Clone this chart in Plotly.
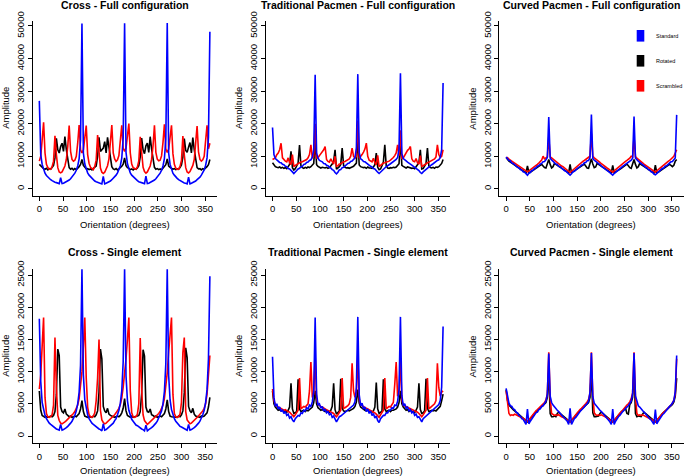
import plotly.graph_objects as go

# Orientation sampled every 3 degrees, 0..360
orientation = list(range(0, 361, 3))

# ---------------- Cross - Full configuration ----------------
cross_full_standard = [
    27000, 10500, 7500, 5800, 4800, 4100, 3600, 3200, 2800, 2500, 2200, 2000, 1900, 1700, 1600, 3400, 1600, 1700, 1900, 2100, 2400, 2700, 3100, 3600, 4100, 4800, 5700, 7000, 9200, 15000,
    50700, 11000, 7600, 5900, 4900, 4200, 3700, 3200, 2800, 2400, 2200, 2000, 1800, 1700, 1500, 3800, 1500, 1700, 1900, 2200, 2400, 2800, 3200, 3600, 4200, 4900, 5800, 7100, 9400, 15500,
    50800, 11200, 7700, 6000, 4900, 4200, 3700, 3200, 2800, 2500, 2200, 2000, 1900, 1700, 1600, 3900, 1600, 1700, 1900, 2100, 2400, 2700, 3100, 3600, 4100, 4800, 5700, 7000, 9300, 15200,
    50900, 11000, 7500, 5800, 4800, 4200, 3600, 3200, 2800, 2500, 2200, 2000, 1800, 1700, 1500, 3600, 1500, 1700, 1900, 2100, 2400, 2800, 3100, 3600, 4200, 4900, 5800, 7200, 9500, 15800,
    48200]
cross_full_rotated = [
    7500, 7000, 6500, 6200, 6000, 6300, 5800, 6200, 6000, 6500, 7200, 9500, 15500, 12000, 11000, 13000, 14000, 11500, 16000, 12000, 9000, 6500, 6000, 6300, 5800, 6200, 5900, 6300, 6800, 7500,
    9000, 7200, 6600, 6100, 6200, 5900, 6100, 5800, 6300, 6600, 7000, 10000, 15800, 11500, 12000, 12500, 14500, 11000, 15800, 12500, 9500, 6800, 6100, 5900, 6200, 5800, 6100, 6400, 6900, 7600,
    9500, 7100, 6500, 6300, 5900, 6100, 5800, 6200, 6000, 6400, 7100, 9800, 15600, 12000, 10800, 13200, 14000, 11200, 16000, 12200, 9200, 6600, 6000, 6200, 5900, 6100, 5800, 6300, 6700, 7400,
    9200, 7000, 6600, 6200, 6000, 6200, 5900, 6100, 6000, 6500, 7300, 9700, 15400, 11800, 11200, 12800, 14200, 11000, 15700, 12000, 9000, 6500, 6100, 6200, 5800, 6200, 6000, 6300, 6800, 7400,
    9000]
cross_full_scrambled = [
    8500, 10000, 15000, 20400, 11000, 7500, 6500, 6000, 6000, 6800, 8500, 16300, 10500, 6500, 5200, 4900, 5200, 6000, 7000, 9000, 13000, 19400, 11500, 9000, 8500, 8800, 10000, 14000, 19600, 12000,
    11000, 12000, 16000, 19400, 10500, 7800, 6600, 6200, 5900, 6900, 8800, 16500, 10000, 6400, 5100, 4700, 5100, 6100, 7100, 9200, 13500, 19600, 11000, 9200, 8400, 8900, 10200, 14500, 19500, 12500,
    11500, 12500, 15500, 20000, 11000, 7600, 6500, 6100, 6000, 6700, 8600, 16000, 10200, 6600, 5300, 4800, 5200, 6000, 7000, 9100, 13200, 19500, 11200, 9100, 8600, 8800, 10100, 14200, 19800, 12200,
    11200, 12200, 15800, 19500, 10800, 7500, 6400, 6000, 6100, 6900, 8700, 16200, 10400, 6500, 5200, 4900, 5300, 6100, 7200, 9000, 13100, 19300, 11300, 9000, 8500, 8900, 10000, 14300, 19500, 12300,
    14000]

# ---------------- Traditional Pacmen - Full configuration ----------------
trad_full_standard = [
    18800, 10500, 9300, 8800, 8600, 8100, 8000, 7500, 7400, 6900, 6800, 6200, 6100, 5500, 5200, 4700, 5300, 5600, 6100, 6300, 6800, 6900, 7500, 7600, 8100, 8200, 8700, 8900, 9700, 12000,
    35000, 11000, 9400, 8700, 8500, 8300, 7800, 7700, 7200, 7100, 6600, 6400, 5900, 5700, 5000, 4600, 5100, 5800, 5900, 6500, 6600, 7100, 7300, 7800, 7900, 8400, 8500, 9100, 9500, 12500,
    35200, 11200, 9200, 8900, 8400, 8300, 7900, 7500, 7400, 6900, 6700, 6200, 6100, 5500, 5100, 4700, 5200, 5700, 6000, 6400, 6800, 7000, 7400, 7700, 8000, 8300, 8600, 9000, 9600, 12200,
    35500, 10800, 9300, 8800, 8600, 8200, 8000, 7600, 7300, 7000, 6700, 6300, 6000, 5600, 5000, 4700, 5200, 5600, 6100, 6400, 6700, 7100, 7400, 7700, 8100, 8300, 8700, 8900, 9600, 12000,
    32500]
trad_full_rotated = [
    8000, 7200, 6800, 6600, 6500, 6700, 6400, 6600, 6300, 6500, 6200, 6800, 7500, 11500, 6500, 5800, 6200, 7000, 8000, 13400, 7000, 6500, 6300, 6600, 6400, 6700, 6500, 6800, 7200, 7800,
    15000, 7400, 6900, 6700, 6400, 6600, 6500, 6400, 6600, 6300, 6500, 6900, 7600, 8500, 12000, 6000, 6300, 6800, 7500, 12500, 7200, 6600, 6400, 6500, 6300, 6600, 6700, 6900, 7300, 7900,
    16000, 7300, 6800, 6600, 6500, 6600, 6300, 6700, 6400, 6400, 6300, 6700, 7400, 11000, 6600, 5900, 6100, 7100, 8200, 13500, 7100, 6400, 6300, 6500, 6400, 6600, 6500, 6700, 7100, 7700,
    15000, 7200, 6900, 6600, 6400, 6700, 6500, 6500, 6300, 6400, 6200, 6800, 7500, 8000, 12000, 6100, 6200, 6900, 7800, 12500, 7000, 6500, 6400, 6600, 6300, 6700, 6600, 6800, 7200, 7800,
    9000]
trad_full_scrambled = [
    9000, 9200, 9500, 10500, 11000, 12000, 14000, 9500, 8800, 8500, 8300, 9500, 8000, 7500, 10500, 6800, 7200, 7500, 7800, 8000, 8200, 8300, 8500, 8700, 9000, 9500, 10500, 13500, 9500, 10000,
    20000, 9300, 9600, 10200, 10800, 11500, 12000, 13000, 9000, 8400, 8200, 9200, 8100, 7600, 10000, 6900, 7100, 7600, 7700, 8100, 8300, 8400, 8600, 8800, 9200, 10000, 12500, 10000, 9400, 10000,
    21000, 9400, 9800, 10500, 11300, 12200, 14000, 10000, 8800, 8500, 8300, 9400, 8000, 7400, 10300, 6800, 7200, 7400, 7900, 8000, 8100, 8400, 8500, 8800, 9100, 9600, 10200, 11000, 13500, 10200,
    18000, 9200, 9500, 10300, 11000, 11800, 12200, 13000, 9200, 8500, 8300, 9300, 8000, 7600, 10200, 6900, 7100, 7500, 7800, 8000, 8200, 8400, 8600, 8900, 9200, 9800, 13500, 10500, 9600, 10000,
    12000]

# ---------------- Curved Pacmen - Full configuration ----------------
curved_full_standard = [
    9800, 9300, 8700, 8600, 7900, 7800, 7300, 7100, 6600, 6500, 5900, 5800, 5200, 5100, 4500, 4200, 4800, 5000, 5600, 5700, 6300, 6400, 7000, 7100, 7600, 7800, 8300, 8400, 8900, 9600,
    22000, 9400, 8900, 8400, 8100, 7600, 7500, 6900, 6800, 6300, 6100, 5600, 5400, 4900, 4700, 4200, 4600, 5200, 5400, 5900, 6100, 6600, 6800, 7300, 7400, 8000, 8100, 8600, 8700, 9500,
    22800, 9300, 8800, 8500, 8000, 7700, 7400, 7000, 6700, 6400, 6000, 5700, 5300, 5000, 4600, 4200, 4700, 5100, 5500, 5800, 6200, 6500, 6900, 7200, 7500, 7900, 8200, 8500, 8800, 9400,
    22200, 9400, 8800, 8500, 8100, 7600, 7400, 7100, 6600, 6500, 5900, 5800, 5200, 5100, 4500, 4300, 4700, 5000, 5600, 5700, 6300, 6400, 7000, 7100, 7600, 7800, 8300, 8400, 8900, 9500,
    22700]
curved_full_rotated = [
    9600, 9000, 8500, 8200, 7900, 7500, 7200, 6900, 6600, 6300, 6000, 5700, 5400, 5000, 4900, 7000, 5000, 5100, 5400, 5700, 6000, 6300, 6600, 6900, 7300, 7500, 7000, 6500, 6400, 7500,
    9000, 7500, 6400, 6800, 7800, 7500, 7200, 6900, 6600, 6300, 6000, 5700, 5400, 5000, 4900, 7500, 5000, 5200, 5500, 5800, 6100, 6400, 6700, 7000, 7300, 7600, 7000, 6400, 6300, 7800,
    9200, 7600, 6500, 6700, 7800, 7500, 7200, 6900, 6600, 6300, 6000, 5700, 5400, 5100, 4900, 7200, 5000, 5200, 5400, 5700, 6000, 6300, 6600, 7000, 7300, 7600, 7100, 6500, 6300, 7600,
    9000, 7500, 6400, 6800, 7800, 7400, 7200, 6900, 6600, 6300, 6000, 5700, 5300, 5000, 4800, 7300, 5000, 5100, 5400, 5700, 6000, 6300, 6600, 6900, 7300, 7500, 7200, 6800, 7200, 8500,
    9000]
curved_full_scrambled = [
    9500, 9600, 9100, 8900, 8500, 8200, 7900, 7500, 7300, 7000, 6700, 6400, 6000, 5800, 5400, 5200, 5500, 5800, 6100, 6500, 6800, 7100, 7500, 7900, 8300, 8800, 10000, 9200, 9500, 9800,
    16000, 9800, 9500, 9100, 8700, 8300, 8000, 7600, 7300, 7000, 6800, 6400, 6100, 5800, 5500, 5000, 5400, 5800, 6200, 6600, 6900, 7200, 7600, 8000, 8400, 8700, 9000, 9300, 9600, 10000,
    17000, 10000, 9500, 9200, 8800, 8400, 8100, 7700, 7300, 7000, 6700, 6400, 6100, 5800, 5400, 5100, 5500, 5900, 6200, 6500, 6900, 7300, 7600, 8000, 8400, 8700, 9000, 9400, 10000, 9800,
    16000, 9900, 9400, 9100, 8700, 8300, 8000, 7600, 7300, 7000, 6700, 6400, 6100, 5700, 5400, 5100, 5500, 5900, 6200, 6600, 6900, 7200, 7600, 8000, 8400, 8700, 9100, 9500, 10000, 11000,
    12000]

# ---------------- Cross - Single element ----------------
cross_single_standard = [
    18200, 8500, 5200, 4000, 3200, 2700, 2300, 2000, 1800, 1600, 1500, 1300, 1100, 1000, 900, 1800, 900, 1000, 1100, 1300, 1500, 1700, 2000, 2300, 2700, 3200, 3900, 5000, 6800, 11000,
    26000, 9500, 5600, 4100, 3300, 2700, 2300, 2000, 1800, 1600, 1400, 1300, 1100, 1000, 800, 1900, 900, 1000, 1200, 1300, 1500, 1800, 2000, 2400, 2700, 3300, 4000, 5100, 7000, 11500,
    26000, 9300, 5500, 4000, 3200, 2600, 2300, 2000, 1700, 1600, 1400, 1200, 1100, 1000, 800, 1700, 800, 1000, 1100, 1300, 1500, 1700, 2000, 2300, 2800, 3200, 3900, 5000, 6900, 11200,
    26000, 9400, 5600, 4100, 3200, 2700, 2300, 2000, 1800, 1500, 1400, 1300, 1100, 1000, 900, 1800, 900, 1000, 1100, 1300, 1500, 1700, 2000, 2300, 2700, 3300, 4000, 5200, 7200, 12000,
    24800]
cross_single_rotated = [
    7000, 4000, 3200, 3000, 2900, 3000, 2900, 3000, 3100, 3000, 3200, 3800, 6500, 13500, 12500, 4500, 3800, 3600, 4200, 3400, 3200, 3000, 3100, 2900, 3000, 3100, 3000, 3200, 3500, 4200,
    5500, 3800, 3100, 3000, 2900, 3000, 3000, 2900, 3100, 3000, 3300, 3900, 6800, 13500, 12000, 4600, 3900, 3600, 4300, 3400, 3200, 3100, 3000, 2900, 3000, 3100, 3000, 3200, 3600, 4300,
    5800, 3900, 3200, 3000, 2900, 3100, 2900, 3000, 3000, 3100, 3200, 3800, 6600, 13400, 12400, 4500, 3800, 3700, 4200, 3300, 3200, 3000, 3100, 2900, 3000, 3100, 3000, 3300, 3500, 4200,
    5600, 3800, 3100, 3000, 3000, 2900, 3000, 2900, 3100, 3000, 3300, 3900, 6700, 13700, 12200, 4600, 3900, 3600, 4300, 3400, 3100, 3000, 3000, 2900, 3100, 3000, 3100, 3300, 3600, 4500,
    6000]
cross_single_scrambled = [
    7300, 9500, 14000, 18400, 6000, 3500, 3000, 2900, 3000, 3300, 4800, 15300, 7500, 3200, 2400, 2000, 1900, 2000, 2200, 2400, 2600, 2900, 3100, 3300, 3500, 3800, 4200, 4800, 5800, 7500,
    10000, 14000, 18400, 9000, 4500, 3300, 3000, 2900, 3100, 3600, 5500, 9000, 15000, 4000, 2500, 2100, 1900, 2000, 2200, 2400, 2700, 2900, 3100, 3300, 3600, 3900, 4300, 4900, 5900, 7600,
    9500, 12000, 15000, 18400, 7000, 3600, 3000, 2900, 3000, 3400, 5000, 15200, 7200, 3300, 2400, 2000, 1800, 2000, 2200, 2400, 2600, 2800, 3100, 3300, 3500, 3800, 4200, 4800, 5800, 7500,
    9800, 13000, 16000, 18400, 6500, 3500, 3000, 2900, 3000, 3400, 5200, 13000, 15300, 3800, 2500, 2100, 1900, 2000, 2200, 2500, 2700, 2900, 3100, 3400, 3600, 3900, 4300, 5000, 6500, 9000,
    12500]

# ---------------- Traditional Pacmen - Single element ----------------
trad_single_standard = [
    12300, 6000, 4600, 5000, 4200, 4500, 3800, 4100, 3500, 3800, 3200, 3400, 2800, 3000, 2500, 2200, 2700, 2900, 3200, 3100, 3600, 3500, 4000, 3900, 4400, 4200, 4800, 4600, 5300, 7000,
    18400, 6500, 4800, 5000, 4300, 4600, 3900, 4200, 3600, 3800, 3300, 3500, 2900, 3100, 2500, 2200, 2600, 3000, 3100, 3300, 3500, 3700, 3900, 4100, 4300, 4400, 4700, 4800, 5300, 7500,
    18500, 6400, 4700, 5100, 4200, 4500, 3800, 4200, 3500, 3900, 3200, 3500, 2800, 3100, 2400, 2100, 2700, 2900, 3200, 3200, 3600, 3600, 4000, 4000, 4400, 4300, 4800, 4700, 5400, 7200,
    18500, 6300, 4700, 5000, 4300, 4500, 3900, 4100, 3600, 3800, 3200, 3400, 2900, 3000, 2500, 2200, 2700, 2900, 3100, 3300, 3500, 3700, 3900, 4100, 4300, 4500, 4700, 4900, 5500, 7600,
    17000]
trad_single_rotated = [
    7000, 5000, 4500, 4200, 4000, 4100, 3900, 4000, 3800, 3900, 3700, 4000, 4500, 8200, 4200, 3500, 3600, 3800, 8800, 4200, 3800, 3900, 4000, 3800, 4000, 3900, 4100, 4200, 4500, 5200,
    7000, 5000, 4400, 4200, 4000, 4100, 3900, 3800, 3900, 3800, 3700, 4000, 4600, 8200, 4100, 3400, 3600, 3900, 8900, 4300, 3900, 3800, 3900, 4000, 3900, 4000, 4100, 4300, 4600, 5300,
    7200, 5100, 4500, 4300, 4100, 4000, 3900, 4000, 3800, 3900, 3700, 3900, 4500, 8300, 4200, 3500, 3700, 3800, 8800, 4200, 3800, 3900, 4000, 3800, 4000, 4000, 4100, 4200, 4500, 5200,
    7000, 5000, 4500, 4200, 4000, 4100, 3800, 4000, 3800, 3800, 3600, 4000, 4500, 8200, 4100, 3500, 3600, 3900, 8900, 4300, 3800, 3900, 4000, 3900, 4000, 3900, 4100, 4300, 4600, 5500,
    6500]
trad_single_scrambled = [
    7300, 5500, 4800, 4600, 4500, 4400, 4300, 4200, 4000, 4100, 3900, 3800, 3700, 3500, 3200, 3000, 3300, 3600, 4000, 9000, 4200, 4400, 4600, 4500, 4800, 5000, 7000, 11500, 6000, 6500,
    12500, 5800, 4900, 4700, 4600, 4500, 4300, 4200, 4100, 4000, 3900, 3800, 3700, 3500, 3200, 3000, 3300, 3700, 4000, 9000, 4300, 4400, 4500, 4700, 5000, 6000, 11300, 7000, 6000, 6800,
    12600, 5700, 4900, 4700, 4500, 4400, 4300, 4200, 4100, 4000, 3900, 3800, 3600, 3400, 3100, 2900, 3300, 3600, 4000, 9000, 4200, 4400, 4600, 4500, 4900, 5200, 8000, 11500, 6200, 6600,
    12000, 5600, 4800, 4700, 4500, 4400, 4300, 4200, 4100, 4000, 3900, 3800, 3700, 3500, 3200, 3000, 3300, 3600, 4000, 9000, 4200, 4400, 4600, 4700, 5000, 5500, 11300, 7500, 6200, 6800,
    7000]

# ---------------- Curved Pacmen - Single element ----------------
curved_single_standard = [
    7400, 6000, 5100, 4700, 4600, 4200, 4100, 3700, 3600, 3200, 3100, 2700, 2600, 2200, 1800, 4200, 1900, 2300, 2600, 3000, 3200, 3600, 3700, 4100, 4200, 4600, 4700, 5100, 5400, 6500,
    12800, 6200, 5200, 4800, 4500, 4300, 4000, 3800, 3500, 3300, 3000, 2800, 2500, 2300, 1800, 4300, 1800, 2400, 2700, 2900, 3300, 3500, 3800, 4000, 4300, 4500, 4800, 5000, 5400, 6800,
    12900, 6100, 5100, 4800, 4500, 4300, 4000, 3800, 3600, 3300, 3000, 2800, 2500, 2200, 1800, 4200, 1800, 2300, 2700, 3000, 3200, 3600, 3800, 4000, 4300, 4500, 4700, 5100, 5400, 6600,
    12900, 6200, 5200, 4700, 4500, 4200, 4000, 3700, 3500, 3200, 3000, 2700, 2500, 2200, 1800, 4100, 1900, 2300, 2700, 2900, 3300, 3500, 3800, 4100, 4300, 4600, 4800, 5100, 5500, 6900,
    12500]
curved_single_rotated = [
    7200, 5500, 4800, 4500, 4300, 4100, 3900, 3700, 3500, 3300, 3100, 2900, 2700, 2500, 2300, 2200, 2400, 2700, 2900, 3200, 3500, 3700, 3900, 4100, 4300, 4500, 4700, 4900, 5200, 6000,
    10000, 3500, 3000, 3000, 3100, 3000, 3500, 3700, 3500, 3300, 3100, 2900, 2700, 2500, 2300, 2200, 2400, 2700, 2900, 3200, 3500, 3700, 3900, 4100, 4300, 4500, 4700, 4900, 5200, 6000,
    10000, 3600, 3000, 3000, 3000, 3100, 3500, 3700, 3500, 3300, 3100, 2900, 2700, 2500, 2300, 2200, 2400, 2700, 2900, 3200, 3500, 3700, 3900, 4100, 4300, 3500, 3400, 4900, 5200, 6000,
    10000, 3500, 3000, 3100, 3000, 3000, 3400, 3700, 3500, 3300, 3100, 2900, 2700, 2500, 2300, 2200, 2400, 2700, 2900, 3200, 3500, 3700, 3900, 4100, 4300, 4500, 4700, 4900, 5300, 6200,
    9000]
curved_single_scrambled = [
    7000, 5000, 3500, 3200, 3300, 3200, 3400, 3300, 3200, 3100, 3000, 2900, 2800, 2600, 2400, 2300, 2500, 2800, 3100, 3400, 3600, 3900, 4100, 4300, 4500, 4700, 4900, 5200, 5600, 6500,
    13000, 6000, 3500, 3300, 3200, 3300, 3200, 3300, 3100, 3000, 2900, 2800, 2700, 2500, 2300, 2200, 2500, 2700, 3000, 3300, 3600, 3800, 4100, 4300, 4500, 4700, 5000, 5300, 5700, 6600,
    13000, 6200, 3600, 3300, 3200, 3300, 3200, 3300, 3200, 3000, 2900, 2800, 2700, 2500, 2300, 2200, 2400, 2700, 3000, 3300, 3500, 3800, 4000, 4300, 4500, 4800, 5000, 5300, 5800, 6700,
    13000, 6000, 3500, 3200, 3300, 3200, 3300, 3200, 3100, 3000, 2900, 2800, 2600, 2500, 2300, 2200, 2400, 2700, 3000, 3300, 3500, 3700, 3900, 4100, 4400, 4600, 4800, 5100, 5600, 6500,
    12000]

x_ticks = [0, 50, 100, 150, 200, 250, 300, 350]
y_ticks_full = [0, 10000, 20000, 30000, 40000, 50000]
y_ticks_single = [0, 5000, 10000, 15000, 20000, 25000]

series_names = ["Rotated", "Scrambled", "Standard"]
series_colors = {"Standard": "#0000FF", "Rotated": "#000000", "Scrambled": "#FF0000"}

panels = [
    ("Cross - Full configuration", cross_full_standard, cross_full_rotated, cross_full_scrambled, 0, 0),
    ("Traditional Pacmen - Full configuration", trad_full_standard, trad_full_rotated, trad_full_scrambled, 0, 1),
    ("Curved Pacmen - Full configuration", curved_full_standard, curved_full_rotated, curved_full_scrambled, 0, 2),
    ("Cross - Single element", cross_single_standard, cross_single_rotated, cross_single_scrambled, 1, 0),
    ("Traditional Pacmen - Single element", trad_single_standard, trad_single_rotated, trad_single_scrambled, 1, 1),
    ("Curved Pacmen - Single element", curved_single_standard, curved_single_rotated, curved_single_scrambled, 1, 2),
]

W, H = 685, 476
col_px = [(32.5, 216.7), (265.7, 449.9), (499.3, 683.5)]
row_px = [(20.7, 196.0), (269.3, 443.3)]
title_px = [5.0, 251.7]
xtitle_px = [224.0, 470.5]
y_ranges = [[-2200, 51600], [-1130, 25890]]

FONT = "Liberation Sans, Arial, Helvetica, sans-serif"
fig = go.Figure()
layout = dict(width=W, height=H, margin=dict(l=0, r=0, t=0, b=0, pad=0),
              paper_bgcolor="white", plot_bgcolor="white", showlegend=False,
              font=dict(family=FONT, color="black", size=9))
annotations = []
shapes = []

for i, (title, std, rot, scr, r, c) in enumerate(panels):
    for arr in (std, rot, scr):
        assert len(arr) == len(orientation), (title, len(arr))
    k = "" if i == 0 else str(i + 1)
    data = {"Standard": std, "Rotated": rot, "Scrambled": scr}
    for name in series_names:
        fig.add_trace(go.Scatter(x=orientation, y=data[name], mode="lines", name=name,
                                 line=dict(color=series_colors[name], width=1.6),
                                 xaxis="x" + k, yaxis="y" + k, showlegend=False))
    x0, x1 = col_px[c]
    y0, y1 = row_px[r]
    layout["xaxis" + k] = dict(domain=[x0 / W, x1 / W], anchor="y" + k, range=[-14.4, 374.4],
                               tickvals=x_ticks, ticks="outside", ticklen=4, tickwidth=1,
                               tickcolor="black", showline=True, linecolor="black", linewidth=1,
                               showgrid=False, zeroline=False, tickfont=dict(size=9.5),
                               automargin=False)
    layout["yaxis" + k] = dict(domain=[1 - y1 / H, 1 - y0 / H], anchor="x" + k, range=y_ranges[r],
                               tickvals=y_ticks_full if r == 0 else y_ticks_single,
                               tickformat="d", exponentformat="none",
                               ticks="outside", ticklen=4, tickwidth=1, tickcolor="black",
                               showline=True, linecolor="black", linewidth=1,
                               showgrid=False, zeroline=False, tickangle=-90,
                               tickfont=dict(size=9.5), automargin=False)
    cx = (x0 + x1) / 2 / W
    annotations.append(dict(text="<b>%s</b>" % title, x=cx, y=1 - title_px[r] / H, xref="paper",
                            yref="paper", showarrow=False, xanchor="center", yanchor="middle",
                            font=dict(size=10.5, family=FONT)))
    annotations.append(dict(text="Orientation (degrees)", x=cx, y=1 - xtitle_px[r] / H, xref="paper",
                            yref="paper", showarrow=False, xanchor="center", yanchor="middle",
                            font=dict(size=9.5, family=FONT)))
    annotations.append(dict(text="Amplitude", x=(x0 - 27) / W, y=1 - (y0 + y1) / 2 / H, xref="paper",
                            yref="paper", showarrow=False, xanchor="center", yanchor="middle",
                            textangle=-90, font=dict(size=9.5, family=FONT)))

# Legend inside the Curved Pacmen - Full configuration panel
legend_items = [("Standard", 35.8), ("Rotated", 60.8), ("Scrambled", 85.8)]
for name, yc in legend_items:
    shapes.append(dict(type="rect", xref="paper", yref="paper",
                       x0=636.7 / W, x1=644.3 / W, y0=1 - (yc + 5.8) / H, y1=1 - (yc - 5.8) / H,
                       fillcolor=series_colors[name], line=dict(width=0)))
    annotations.append(dict(text=name, x=655.0 / W, y=1 - yc / H, xref="paper", yref="paper",
                            showarrow=False, xanchor="left", yanchor="middle", borderpad=0,
                            font=dict(size=5.5, family=FONT)))

layout["annotations"] = annotations
layout["shapes"] = shapes
fig.update_layout(**layout)
fig.write_html("out.html", config={"displayModeBar": False},
               post_script="document.body.style.margin='0px';document.body.style.overflow='hidden';")
